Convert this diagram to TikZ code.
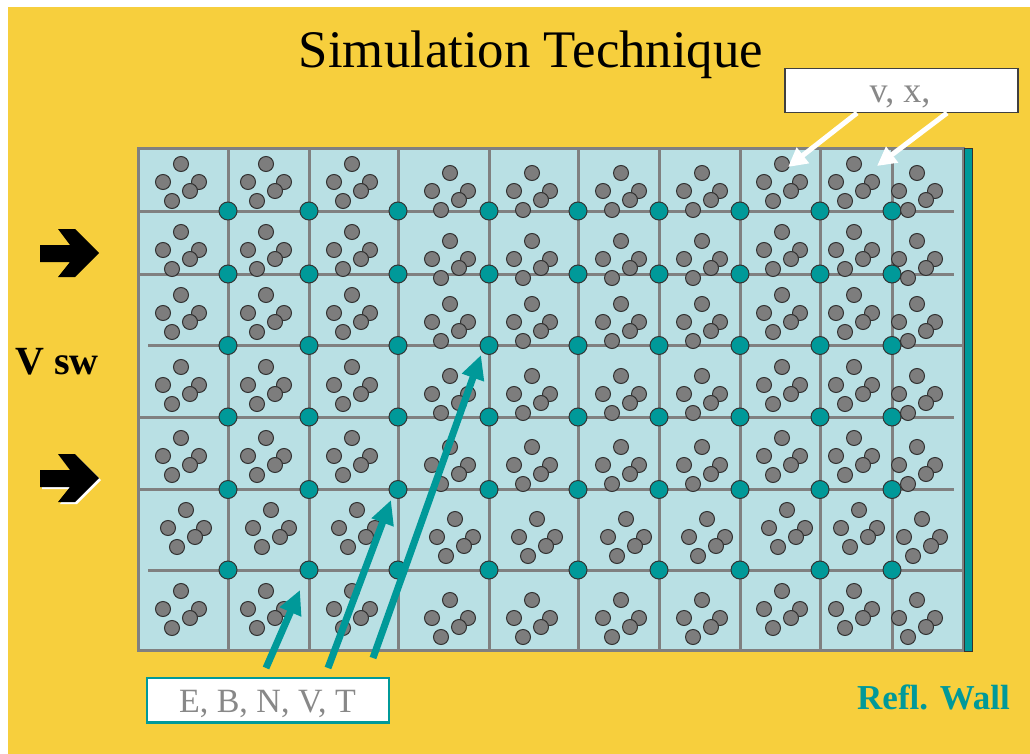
\documentclass[tikz,border=0pt]{standalone}
\usepackage{fontspec}
\setmainfont{Liberation Serif}
\usetikzlibrary{arrows.meta}

\definecolor{bgyellow}{RGB}{247,207,61}
\definecolor{cellblue}{RGB}{185,224,228}
\definecolor{gridgray}{RGB}{128,128,128}
\definecolor{tealc}{RGB}{0,153,153}
\definecolor{partgray}{RGB}{125,125,125}
\definecolor{labelgray}{RGB}{136,136,136}

\tikzset{
  gridline/.style={draw=gridgray, line width=3pt},
  gridpt/.style={circle, fill=tealc, draw=black!80, line width=1pt,
    minimum size=18pt, inner sep=0pt},
  particle/.style={fill=partgray, draw=black!80, line width=1pt},
  pointer/.style={draw=tealc, line width=7pt,
    -{Triangle[length=24pt,width=22pt]}},
  whitepointer/.style={draw=white, line width=5pt,
    -{Triangle[length=19pt,width=19pt]}},
  bigarrow/.style={fill=black},
  % a cluster of five particles, placed by its topmost particle
  cluster/.pic={
    \foreach \dx/\dy in {0/0,-18/18,-9/37,18/18,9/27}
      \draw[particle] (\dx,\dy) circle[radius=7.5pt];
  }
}

\begin{document}
\begin{tikzpicture}[x=1pt,y=-1pt]
\useasboundingbox (0,0) rectangle (1030,754);
\fill[white] (0,0) rectangle (1030,754);
\fill[bgyellow] (8,7) rectangle (1030,754);

% title
\node[anchor=base, font=\fontsize{52.8}{60}\selectfont] (title) at (531,68) {Simulation Technique};

% simulation box
\draw[gridline, fill=cellblue] (138.5,149) rectangle (963.5,650.5);
\node[draw=black!80, line width=1pt, fill=tealc, minimum width=8pt,
  minimum height=503pt, inner sep=0pt] (wall) at (968.5,400) {};

% cell boundaries
\foreach \gx in {228,309,398,489,578,659,740,820,892}
  \draw[gridline] (\gx,149) -- (\gx,650.5);
\foreach \gy in {211,274,417,489.5}
  \draw[gridline] (138.5,\gy) -- (954,\gy);
\foreach \gy in {345.5,570}
  \draw[gridline] (148,\gy) -- (963.5,\gy);

% field grid points
\foreach \gx [count=\i] in {228,309,398,489,578,659,740,820,892}
  \foreach \gy [count=\j] in {211,274,345.5,417,489.5,570}
    \node[gridpt] (g-\i-\j) at (\gx,\gy) {};

% particles in each cell
\foreach \cx/\pat in {181/0,266/0,352/0,450/9,532/9,621/9,702/9,782/0,854/0,917/9}
  \foreach \cy [count=\r] in {164,232,295,367,438,510,591} {
    \pgfmathsetmacro{\sx}{\r==6 ? \cx+5 : \cx}
    \pgfmathsetmacro{\sy}{\cy+\pat}
    \pic at (\sx,\sy) {cluster};
  }

% solar wind inflow
\node[anchor=base, font=\bfseries\fontsize{40}{44}\selectfont] (vsw) at (57,374) {V sw};
\fill[bigarrow] (40,245) -- (70,245) -- (58,229) -- (75,229) -- (99,253)
  -- (75,277) -- (58,277) -- (70,262) -- (40,262) -- cycle;
\fill[white] (42,472) -- (72,472) -- (60,456) -- (77,456) -- (101,480)
  -- (77,504) -- (60,504) -- (72,489) -- (42,489) -- cycle;
\fill[bigarrow] (40,470) -- (70,470) -- (58,454) -- (75,454) -- (99,478)
  -- (75,502) -- (58,502) -- (70,487) -- (40,487) -- cycle;

% reflecting wall label
\node[anchor=base, text=tealc, font=\bfseries\fontsize{35}{40}\selectfont] (wlabel) at (933.5,709) {Refl. Wall};

% particle quantities
\node[draw=black!75, line width=1.5pt, fill=white, minimum width=233pt,
  minimum height=44pt, inner sep=0pt] (vx) at (901.7,90.5) {};
\node[anchor=base, text=labelgray, font=\fontsize{36}{40}\selectfont] (vxlabel) at (900,103) {v, x,};
\coordinate (w1s) at (857,113);
\coordinate (w1e) at (788,167);
\coordinate (w2s) at (947,113);
\coordinate (w2e) at (877,166);
\draw[whitepointer] (w1s) -- (w1e);
\draw[whitepointer] (w2s) -- (w2e);

% field quantities
\node[draw=tealc, line width=2.5pt, fill=white, minimum width=242pt,
  minimum height=44.5pt, inner sep=0pt] (fields) at (268,700.2) {};
\node[anchor=base, text=labelgray, font=\fontsize{34}{40}\selectfont] (flabel) at (267.5,712.7) {E, B, N, V, T};
\coordinate (p1s) at (266,668);
\coordinate (p1e) at (300,590);
\coordinate (p2s) at (328,668);
\coordinate (p2e) at (391,500);
\coordinate (p3s) at (373,658);
\coordinate (p3e) at (481,355);
\draw[pointer] (p1s) -- (p1e);
\draw[pointer] (p2s) -- (p2e);
\draw[pointer] (p3s) -- (p3e);
\end{tikzpicture}
\end{document}
